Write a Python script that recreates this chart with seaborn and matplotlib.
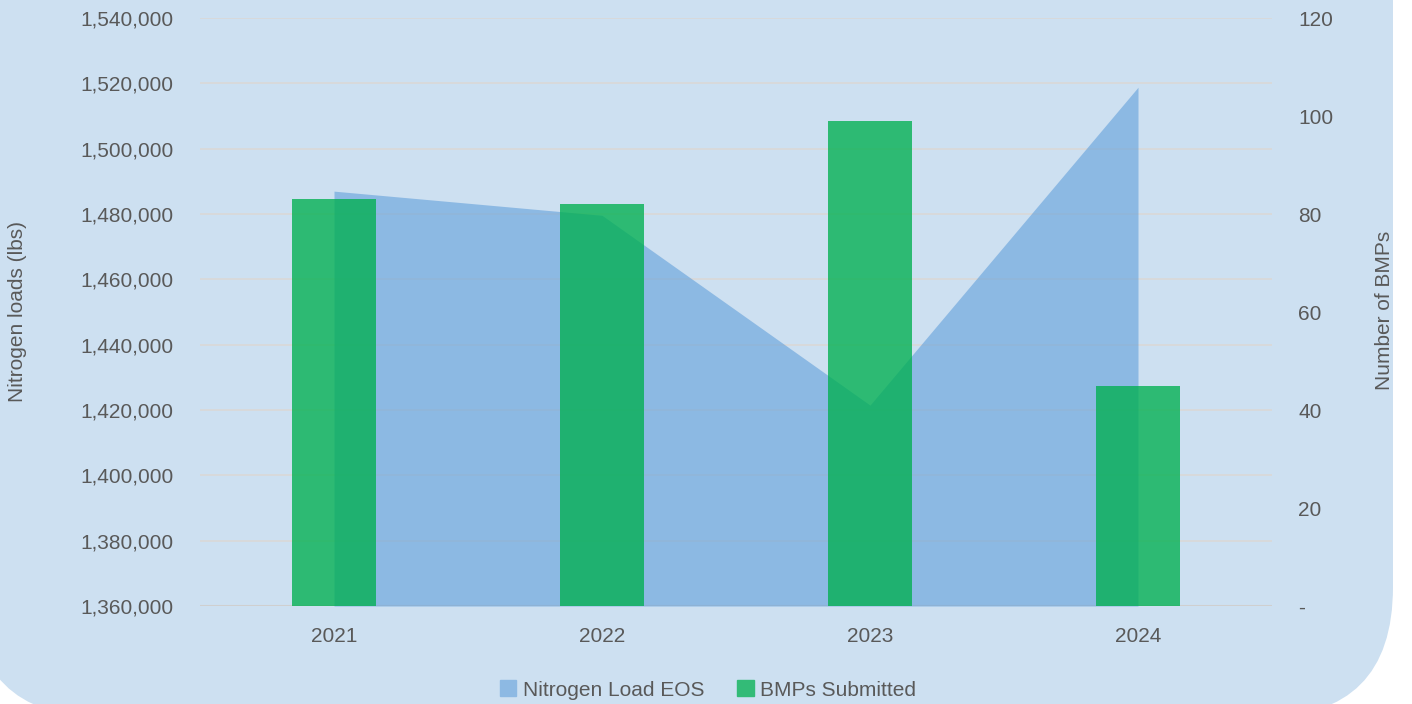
import matplotlib
matplotlib.use('Agg')
import matplotlib.pyplot as plt
import matplotlib.patches as mpatches
import matplotlib.transforms as mtransforms
from matplotlib.ticker import FuncFormatter, MultipleLocator
import pandas as pd
import seaborn as sns

# Data
years = ['2021', '2022', '2023', '2024']
nitrogen_load = [1487000, 1479600, 1421500, 1518800]
bmps_submitted = [83, 82, 99, 45]

df = pd.DataFrame({'year': years, 'nitrogen': nitrogen_load, 'bmps': bmps_submitted})

sns.set_theme(style="white")
plt.rcParams['font.family'] = ['Liberation Sans', 'DejaVu Sans']

text_color = '#595959'
bg_color = '#CDE0F1'
area_color = '#629FDA'
bar_color = '#00B050'
grid_color = '#D9D9D9'

fig = plt.figure(figsize=(14.12, 7.04), dpi=100, facecolor='white')

# Rounded light-blue panel behind the chart (pixel coordinates)
panel = mpatches.FancyBboxPatch((-28, -13), 1421, 900,
                                boxstyle="round,pad=0,rounding_size=130",
                                transform=mtransforms.IdentityTransform(),
                                facecolor=bg_color, edgecolor='none', zorder=0)
fig.add_artist(panel)

ax = fig.add_axes([200 / 1412, 1 - 606 / 704, 1072 / 1412, 588 / 704])
ax.set_facecolor('none')
ax2 = ax.twinx()

# Area series on the left axis
x = range(len(years))
ax.fill_between(x, nitrogen_load, 1360000, color=area_color, alpha=0.6,
                linewidth=0, zorder=2)
ax.set_ylim(1360000, 1540000)
ax.yaxis.set_major_locator(MultipleLocator(20000))
ax.yaxis.set_major_formatter(FuncFormatter(lambda v, p: f'{int(v):,}'))
ax.grid(axis='y', color=grid_color, linewidth=1.3, zorder=1)
ax.set_axisbelow(True)

# Bars on the right axis
sns.barplot(data=df, x='year', y='bmps', ax=ax2, color=bar_color, alpha=0.78,
            saturation=1, width=0.314, linewidth=0, edgecolor='none', zorder=3)
ax2.set_ylim(0, 120)
ax2.yaxis.set_major_locator(MultipleLocator(20))
ax2.yaxis.set_major_formatter(FuncFormatter(lambda v, p: '-' if v == 0 else f'{int(v)}'))
ax2.grid(False)
ax2.set_xlabel('')
ax2.set_ylabel('')

ax.set_xlim(-0.5, len(years) - 0.5)
ax.set_xticks(list(x))
ax.set_xticklabels(years)

for a in (ax, ax2):
    for s in ['top', 'left', 'right', 'bottom']:
        a.spines[s].set_visible(False)
ax.axhline(1360000, color='#CFCFCF', linewidth=1.5, zorder=1.5)

ax.tick_params(axis='y', length=0, pad=19, labelsize=15, labelcolor=text_color)
ax.tick_params(axis='x', length=0, pad=15, labelsize=15, labelcolor=text_color)
ax2.tick_params(axis='y', length=0, pad=19, labelsize=15, labelcolor=text_color)

fig.text(18 / 1412, 1 - 312 / 704, 'Nitrogen loads (lbs)', rotation=90,
         ha='center', va='center', fontsize=15, color=text_color)
fig.text(1385 / 1412, 1 - 310 / 704, 'Number of BMPs', rotation=90,
         ha='center', va='center', fontsize=15, color=text_color)

handles = [mpatches.Patch(color='#8DB9E3', label='Nitrogen Load EOS'),
           mpatches.Patch(color='#33BB77', label='BMPs Submitted')]
fig.legend(handles=handles, loc='center', bbox_to_anchor=(708 / 1412, 1 - 690 / 704),
           ncol=2, frameon=False, fontsize=15, labelcolor=text_color,
           handlelength=0.8, handleheight=0.8, handletextpad=0.3,
           columnspacing=1.6, borderpad=0)

fig.savefig('out.png', dpi=100, facecolor='white')
plt.close()
